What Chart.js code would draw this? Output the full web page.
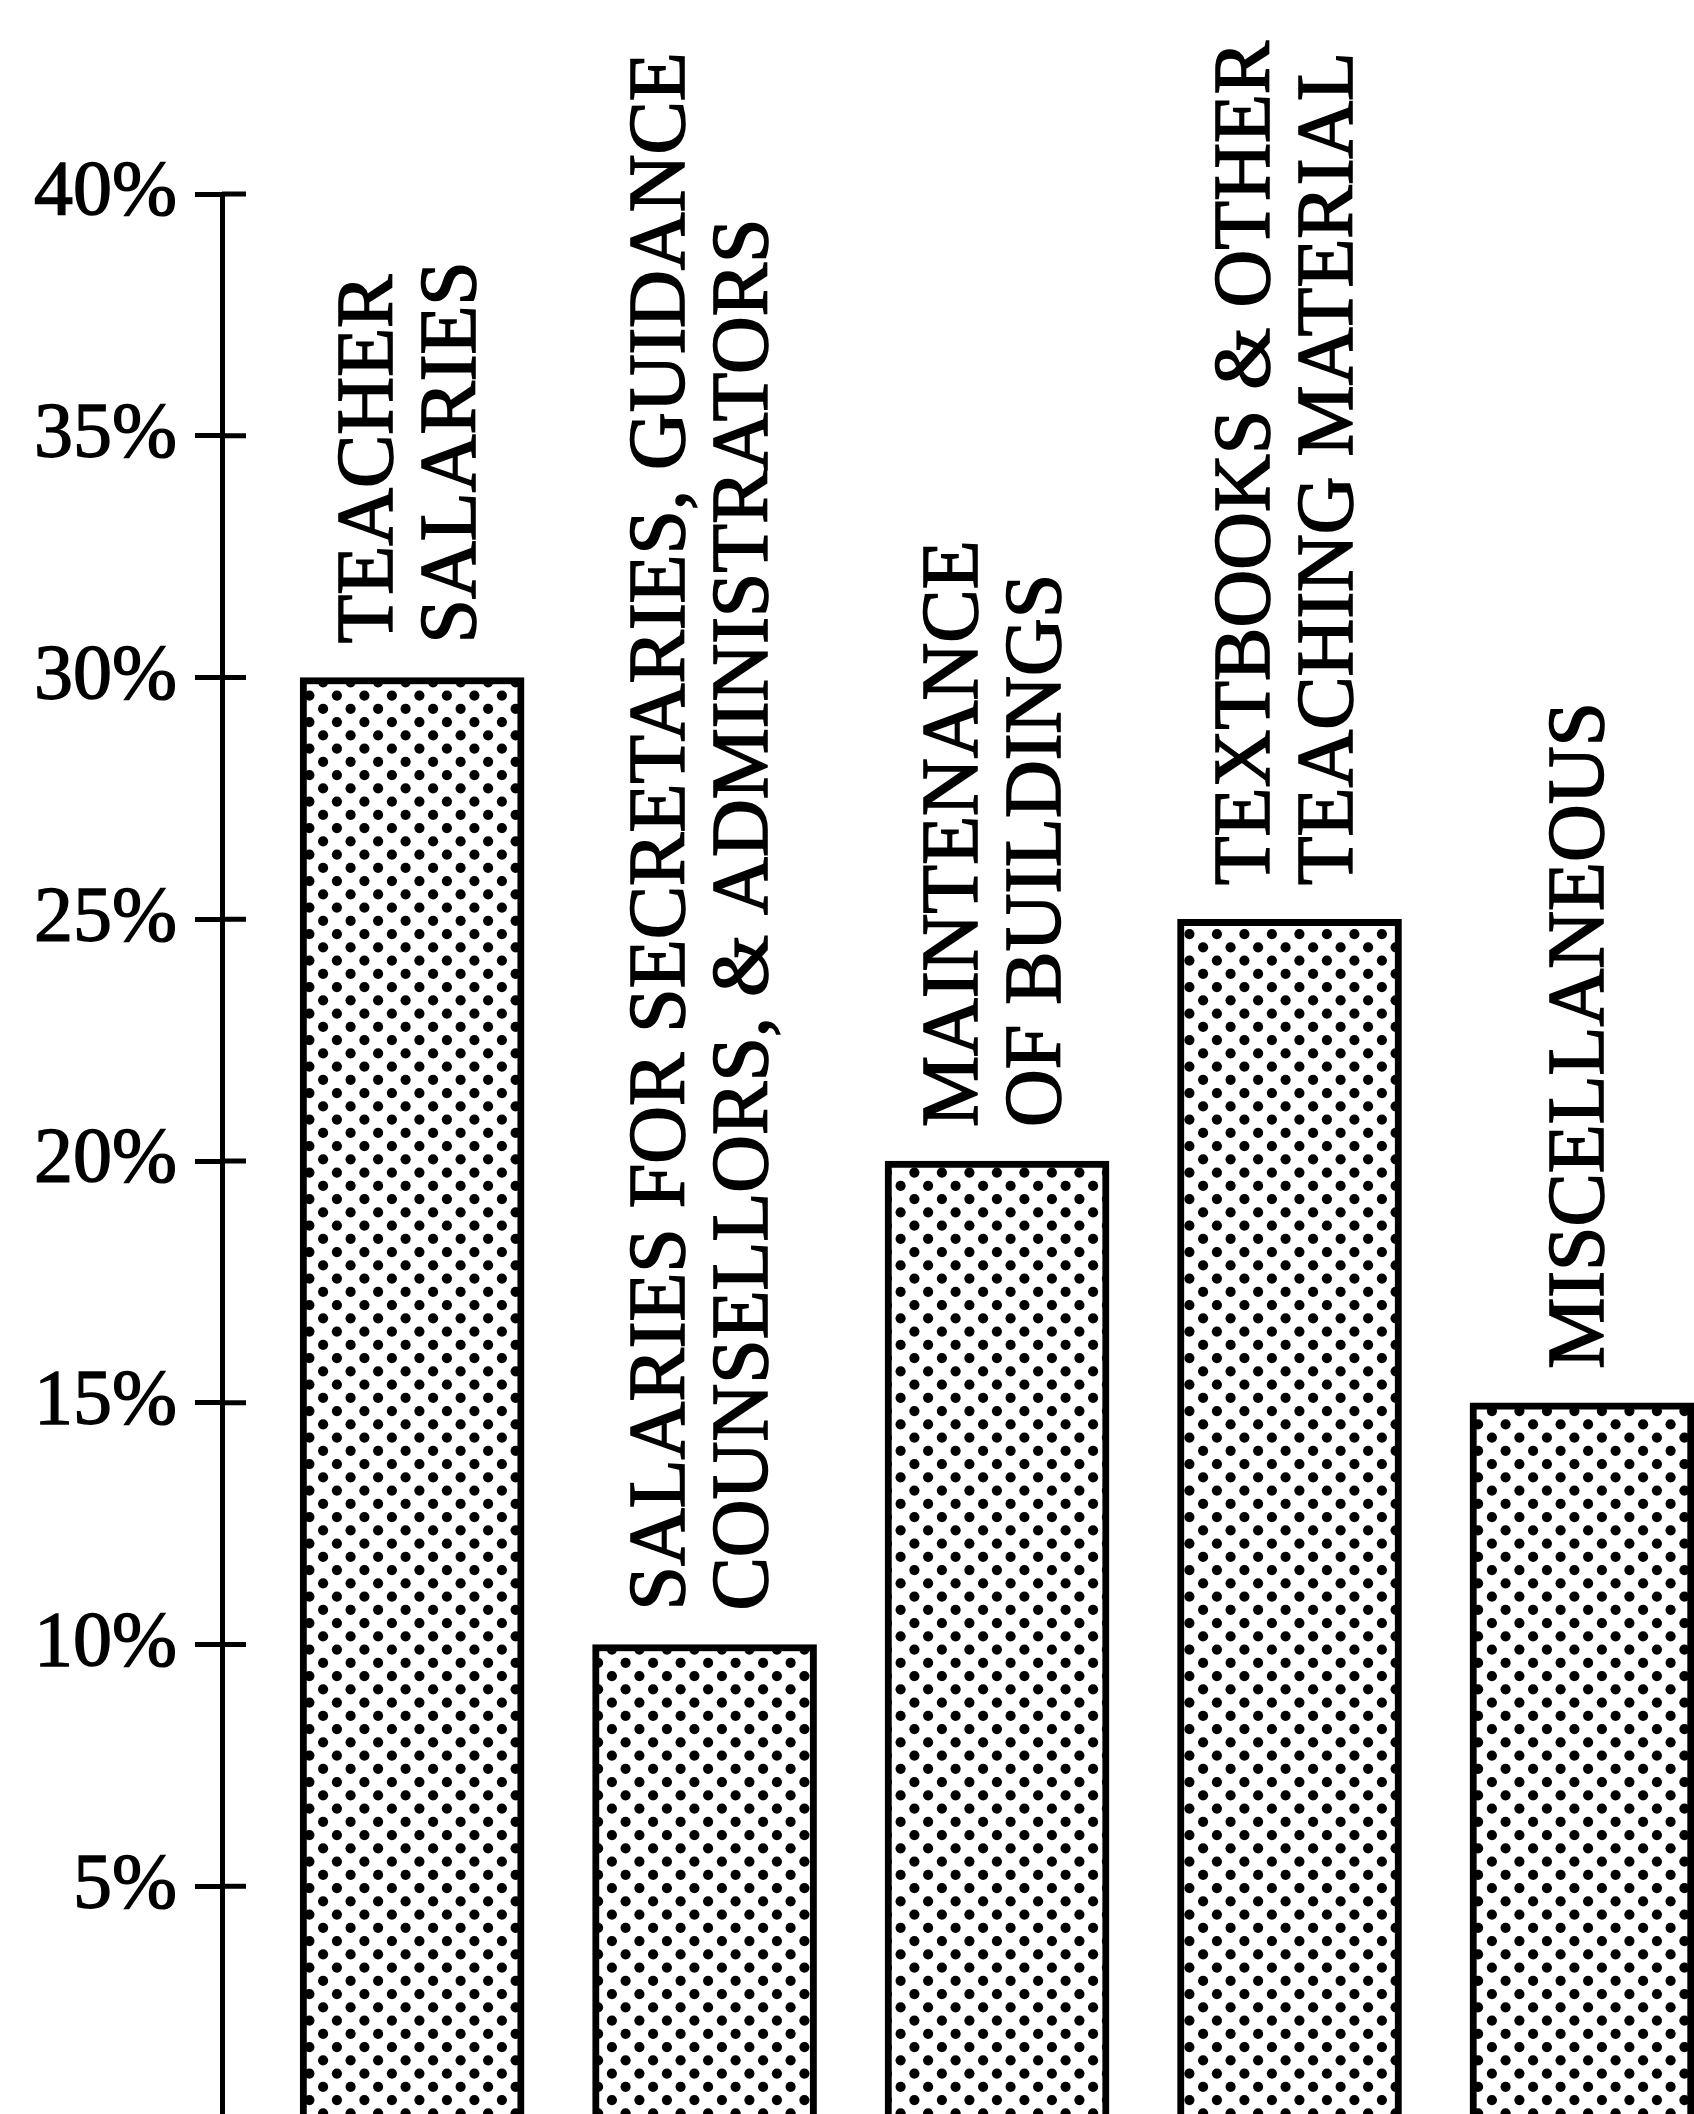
<!DOCTYPE html>
<html>
<head>
<meta charset="utf-8">
<script src="https://cdn.jsdelivr.net/npm/chart.js@4.4.0/dist/chart.umd.min.js"></script>
<style>
  html, body { margin: 0; padding: 0; background: #fff; }
  #wrap { width: 1694px; height: 2114px; overflow: hidden; }
</style>
</head>
<body>
<div id="wrap"><canvas id="chart" width="1694" height="2114"></canvas></div>
<script>
// Categories (each label is drawn as rotated lines above its bar)
var categories = [
    ['TEACHER', 'SALARIES'],
    ['SALARIES FOR SECRETARIES, GUIDANCE', 'COUNSELLORS, & ADMINISTRATORS'],
    ['MAINTENANCE', 'OF BUILDINGS'],
    ['TEXTBOOKS & OTHER', 'TEACHING MATERIAL'],
    ['MISCELLANEOUS']
];

// Share of spending, percent
var shares = [30, 10, 20, 25, 15];

// Tick labels on the y axis
var yTicks = [5, 10, 15, 20, 25, 30, 35, 40];

var serif = "'Liberation Serif', 'Times New Roman', serif";

// Build the dotted screen used to fill the bars
function makeDotPattern() {
    var tile = document.createElement('canvas');
    tile.width = 55;
    tile.height = 53;
    var c = tile.getContext('2d');
    c.fillStyle = '#fff';
    c.fillRect(0, 0, tile.width, tile.height);
    c.fillStyle = '#000';
    var rowGap = 13.25;
    for (var r = 0; r < 4; r++) {
        var y = 6.6 + r * rowGap;
        var xs = (r % 2 === 0) ? [6.9, 34.4] : [20.6, 48.1];
        xs.forEach(function(x) {
            c.beginPath();
            c.arc(x, y, 5.1, 0, Math.PI * 2);
            c.fill();
        });
    }
    return document.getElementById('chart').getContext('2d').createPattern(tile, 'repeat');
}

// Draws the upright category text above each bar
var barLabels = {
    id: 'barLabels',
    afterDatasetsDraw: function(chart) {
        var ctx = chart.ctx;
        var meta = chart.getDatasetMeta(0);
        ctx.save();
        ctx.fillStyle = '#000';
        ctx.strokeStyle = '#000';
        ctx.lineWidth = 1.6;
        ctx.font = '80px ' + serif;
        ctx.textAlign = 'left';
        ctx.textBaseline = 'middle';
        meta.data.forEach(function(bar, i) {
            var lines = categories[i];
            ctx.save();
            ctx.translate(bar.x, bar.y - 34);
            ctx.rotate(-Math.PI / 2);
            lines.forEach(function(line, j) {
                var off = (j - (lines.length - 1) / 2) * 83;
                ctx.fillText(line, 0, off);
                ctx.strokeText(line, 0, off);
            });
            ctx.restore();
        });
        ctx.restore();
    }
};

// Tick marks cross the axis: add the part on the right side
var crossTicks = {
    id: 'crossTicks',
    afterDraw: function(chart) {
        var y = chart.scales.y;
        var ctx = chart.ctx;
        ctx.save();
        ctx.strokeStyle = '#000';
        ctx.lineWidth = 5;
        y.ticks.forEach(function(t) {
            var py = y.getPixelForValue(t.value);
            ctx.beginPath();
            ctx.moveTo(y.right, py);
            ctx.lineTo(y.right + 24, py);
            ctx.stroke();
        });
        ctx.restore();
    }
};

document.addEventListener('DOMContentLoaded', function() {
    var ctx = document.getElementById('chart').getContext('2d');
    var dots = makeDotPattern();
    new Chart(ctx, {
        type: 'bar',
        data: {
            datasets: [{
                data: shares.map(function(v, i) { return { x: i, y: v }; }),
                backgroundColor: dots,
                borderColor: '#000',
                borderWidth: 7,
                borderSkipped: 'bottom',
                barThickness: 224
            }]
        },
        options: {
            responsive: false,
            animation: false,
            layout: { padding: { top: 194, right: 0, bottom: 0, left: 0 } },
            plugins: {
                legend: { display: false },
                tooltip: { enabled: false }
            },
            scales: {
                x: {
                    type: 'linear',
                    display: false,
                    offset: false,
                    min: -0.65,
                    max: 4.383
                },
                y: {
                    min: 0.29,
                    max: 40,
                    afterFit: function(scale) {
                        scale.width = 222;
                        scale.paddingTop = 0;
                        scale.paddingBottom = 0;
                    },
                    afterBuildTicks: function(scale) {
                        scale.ticks = yTicks.map(function(v) { return { value: v }; });
                    },
                    ticks: {
                        color: '#000',
                        padding: 18,
                        textStrokeColor: '#000',
                        textStrokeWidth: 1.4,
                        font: { family: serif, size: 78 },
                        callback: function(v) { return v + '%'; }
                    },
                    grid: {
                        drawOnChartArea: false,
                        drawTicks: true,
                        tickLength: 27,
                        tickWidth: 5,
                        tickColor: '#000',
                        color: '#000'
                    },
                    border: { display: true, color: '#000', width: 5 }
                }
            }
        },
        plugins: [barLabels, crossTicks]
    });
});
</script>
</body>
</html>
